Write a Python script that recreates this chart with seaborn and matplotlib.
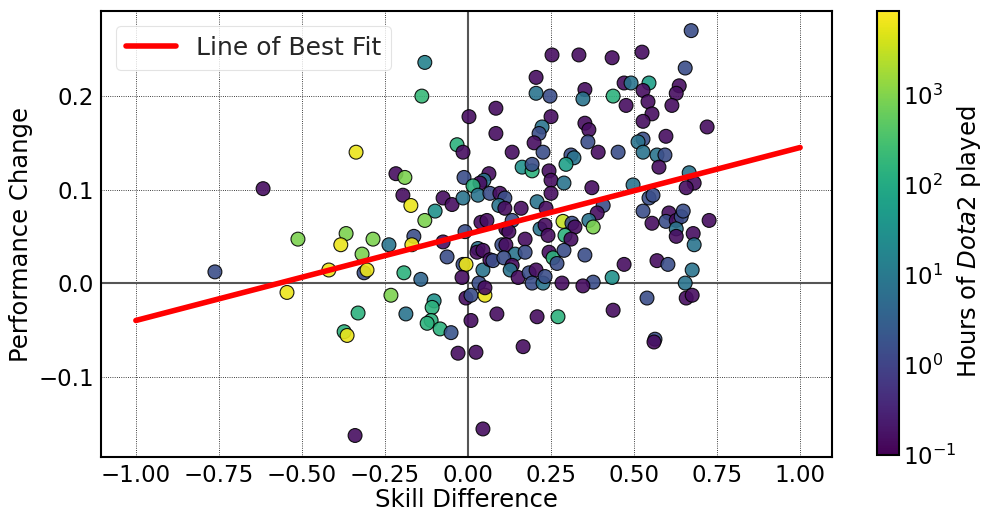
import numpy as np
import pandas as pd
import matplotlib
matplotlib.use("Agg")
import matplotlib.pyplot as plt
from matplotlib.colors import LogNorm
import seaborn as sns

# Player-level observations: skill gap, change in performance, hours of Dota 2 played
skill_diff = [
    -0.762, -0.617, -0.512, -0.419, -0.545, -0.367, -0.383, -0.286, -0.319, -0.337,
    -0.313, -0.304, -0.232, -0.331, -0.373, -0.364, -0.238, -0.340, -0.217, -0.190,
    -0.196, -0.172, -0.075, -0.048, -0.015, -0.099, -0.130, -0.163, -0.169, -0.075,
    -0.063, -0.009, -0.130, -0.139, -0.033, -0.015, -0.012, 0.003, -0.193, -0.142,
    -0.187, -0.102, -0.108, -0.111, -0.123, -0.084, -0.051, -0.030, -0.015, -0.006,
    -0.018, -0.006, 0.009, 0.009, 0.024, 0.045, 0.033, 0.051, 0.051, 0.087,
    0.166, 0.208, 0.271, 0.030, 0.027, 0.045, 0.045, 0.066, 0.075, 0.084,
    0.084, 0.133, 0.205, 0.253, 0.205, 0.247, 0.250, 0.223, 0.214, 0.199,
    0.226, 0.163, 0.193, 0.193, 0.244, 0.250, 0.063, 0.048, 0.036, 0.015,
    0.030, 0.066, 0.096, 0.111, 0.093, 0.111, 0.160, 0.208, 0.235, 0.250,
    0.039, 0.057, 0.133, 0.114, 0.123, 0.172, 0.217, 0.232, 0.241, 0.102,
    0.114, 0.142, 0.172, 0.108, 0.133, 0.127, 0.151, 0.184, 0.205, 0.193,
    0.226, 0.232, 0.244, 0.256, 0.268, 0.672, 0.334, 0.434, 0.524, 0.654,
    0.470, 0.491, 0.545, 0.352, 0.346, 0.437, 0.527, 0.542, 0.476, 0.636,
    0.627, 0.614, 0.554, 0.527, 0.720, 0.352, 0.364, 0.361, 0.392, 0.452,
    0.527, 0.512, 0.596, 0.527, 0.569, 0.593, 0.575, 0.310, 0.319, 0.295,
    0.289, 0.373, 0.497, 0.666, 0.681, 0.657, 0.407, 0.389, 0.364, 0.377,
    0.286, 0.313, 0.322, 0.292, 0.310, 0.289, 0.352, 0.470, 0.434, 0.377,
    0.346, 0.283, 0.437, 0.527, 0.545, 0.557, 0.554, 0.605, 0.596, 0.627,
    0.642, 0.648, 0.627, 0.627, 0.678, 0.681, 0.726, 0.569, 0.602, 0.675,
    0.654, 0.539, 0.657, 0.675, 0.563, 0.560,
]
perf_change = [
    0.012, 0.101, 0.047, 0.014, -0.010, 0.053, 0.041, 0.047, 0.031, 0.140,
    0.011, 0.014, -0.013, -0.032, -0.052, -0.056, 0.041, -0.163, 0.117, 0.113,
    0.094, 0.083, 0.091, 0.084, 0.091, 0.077, 0.067, 0.050, 0.041, 0.044,
    0.028, 0.055, 0.236, 0.200, 0.148, 0.140, 0.113, 0.178, 0.011, 0.004,
    -0.033, -0.019, -0.026, -0.040, -0.043, -0.049, -0.053, -0.075, 0.020, 0.020,
    0.006, -0.016, -0.013, -0.040, -0.074, -0.156, 0.000, -0.013, -0.005, -0.033,
    -0.068, -0.036, -0.036, 0.037, 0.033, 0.035, 0.014, 0.025, 0.024, 0.187,
    0.160, 0.140, 0.220, 0.244, 0.203, 0.200, 0.178, 0.167, 0.160, 0.150,
    0.140, 0.124, 0.120, 0.127, 0.120, 0.110, 0.117, 0.110, 0.107, 0.104,
    0.094, 0.096, 0.096, 0.091, 0.083, 0.080, 0.080, 0.087, 0.080, 0.096,
    0.065, 0.067, 0.067, 0.058, 0.055, 0.047, 0.058, 0.062, 0.051, 0.041,
    0.041, 0.031, 0.033, 0.027, 0.019, 0.014, 0.006, 0.011, 0.014, 0.000,
    0.000, 0.007, 0.033, 0.027, 0.021, 0.270, 0.244, 0.241, 0.247, 0.230,
    0.214, 0.214, 0.214, 0.207, 0.197, 0.200, 0.206, 0.194, 0.190, 0.211,
    0.203, 0.190, 0.181, 0.173, 0.167, 0.171, 0.164, 0.151, 0.140, 0.140,
    0.154, 0.151, 0.157, 0.140, 0.137, 0.137, 0.124, 0.137, 0.134, 0.127,
    0.107, 0.102, 0.105, 0.118, 0.107, 0.102, 0.083, 0.075, 0.067, 0.060,
    0.066, 0.064, 0.060, 0.051, 0.047, 0.035, 0.030, 0.020, 0.006, 0.001,
    -0.003, 0.000, -0.029, 0.077, 0.091, 0.094, 0.064, 0.075, 0.066, 0.067,
    0.071, 0.077, 0.058, 0.050, 0.053, 0.041, 0.067, 0.024, 0.020, 0.014,
    0.000, -0.016, -0.016, -0.013, -0.060, -0.063,
]
hours_played = [
    1.5, 0.15, 900, 6000, 6000, 900, 6000, 900, 900, 6000,
    1.5, 6000, 900, 150, 150, 6000, 8, 0.15, 0.15, 900,
    0.15, 6000, 0.15, 0.15, 8, 30, 900, 1.5, 6000, 0.15,
    1.5, 1.5, 16, 200, 150, 0.15, 1.5, 0.15, 150, 4,
    8, 30, 150, 150, 150, 150, 2, 0.15, 1.5, 6000,
    0.15, 0.15, 1.5, 0.15, 0.15, 0.15, 1.5, 6000, 0.15, 0.15,
    0.15, 0.15, 150, 8, 0.15, 0.15, 8, 0.15, 1.5, 0.15,
    0.15, 0.15, 0.15, 0.15, 8, 1.5, 0.15, 8, 1.5, 0.15,
    1.5, 30, 150, 1.5, 0.15, 0.15, 0.15, 8, 0.15, 150,
    8, 1.5, 0.15, 1.5, 8, 0.15, 0.15, 8, 0.15, 0.15,
    0.15, 0.15, 1.5, 0.15, 0.15, 0.15, 8, 0.15, 0.15, 1.5,
    0.15, 8, 1.5, 1.5, 0.15, 8, 0.15, 1.5, 0.15, 1.5,
    8, 1.5, 0.15, 150, 1.5, 1.5, 0.15, 0.15, 0.15, 1.5,
    0.15, 8, 60, 0.15, 8, 150, 0.15, 0.15, 0.15, 0.15,
    0.15, 0.15, 0.15, 0.15, 0.15, 0.15, 0.15, 1.5, 0.15, 1.5,
    1.5, 8, 0.15, 8, 8, 1.5, 0.15, 1.5, 8, 60,
    8, 0.15, 8, 8, 0.15, 0.15, 1.5, 0.15, 8, 900,
    3000, 1.5, 0.15, 150, 0.15, 1.5, 1.5, 0.15, 30, 1.5,
    0.15, 0.15, 0.15, 1.5, 1.5, 1.5, 0.15, 0.15, 1.5, 0.15,
    1.5, 1.5, 8, 0.15, 0.15, 8, 0.15, 0.15, 1.5, 8,
    8, 1.5, 0.15, 0.15, 1.5, 0.15,
]

# Least-squares line: performance_change = slope * skill_diff + intercept
fit_slope = 0.0925
fit_intercept = 0.0525
fit_x_range = [-1.0, 1.0]

x_ticks = [-1.00, -0.75, -0.50, -0.25, 0.00, 0.25, 0.50, 0.75, 1.00]
y_ticks = [-0.1, 0.0, 0.1, 0.2]
cbar_ticks = [0.1, 1, 10, 100, 1000]
hours_min, hours_max = 0.1, 8500

df = pd.DataFrame({"skill": skill_diff, "perf": perf_change, "hours": hours_played})

sns.set_theme(style="white")
plt.rcParams["font.family"] = ["DejaVu Sans"]

fig = plt.figure(figsize=(9.86, 5.12), dpi=100)
ax = fig.add_axes([101 / 986, 1 - 457 / 512, 731 / 986, 446 / 512])
cax = fig.add_axes([877 / 986, 1 - 455 / 512, 22 / 986, 444 / 512])

norm = LogNorm(vmin=hours_min, vmax=hours_max)

# reference axes through the origin
ax.axhline(0, color="#555555", lw=1.5, zorder=1)
ax.axvline(0, color="#555555", lw=1.5, zorder=1)

sns.scatterplot(
    data=df, x="skill", y="perf", hue="hours", hue_norm=norm, palette="viridis",
    s=100, edgecolor="black", linewidth=0.8, alpha=0.9, legend=False, ax=ax, zorder=3,
)

fx = np.array(fit_x_range)
sns.lineplot(x=fx, y=fit_slope * fx + fit_intercept, color="red", lw=4,
             label="Line of Best Fit", ax=ax, zorder=4)

ax.set_xlim(-1.105, 1.096)
ax.set_ylim(-0.186, 0.291)
ax.set_xticks(x_ticks)
ax.set_yticks(y_ticks)
ax.set_xticklabels([f"{t:.2f}".replace("-", "\u2212") for t in x_ticks])
ax.grid(True, color="black", linestyle=":", linewidth=0.6, zorder=0)
ax.tick_params(axis="both", length=0, labelsize=16.5, pad=5, colors="black")
for sp in ax.spines.values():
    sp.set_visible(True)
    sp.set_color("black")
    sp.set_linewidth(1.5)
ax.set_xlabel("Skill Difference", fontsize=17.5, color="black", labelpad=1)
ax.set_ylabel("Performance Change", fontsize=17.5, color="black", labelpad=4)

leg = ax.legend(loc="upper left", fontsize=18, frameon=True, handlelength=2.0,
                borderpad=0.4, borderaxespad=0.6)
leg.get_frame().set_edgecolor("#dddddd")
leg.get_frame().set_linewidth(0.8)

sm = plt.cm.ScalarMappable(norm=norm, cmap="viridis")
cb = fig.colorbar(sm, cax=cax)
cb.set_ticks(cbar_ticks)
cb.ax.minorticks_off()
cb.ax.tick_params(length=0, labelsize=16.5, pad=3, colors="black")
cb.outline.set_edgecolor("black")
cb.outline.set_linewidth(1.5)
cb.set_label(r"Hours of $\it{Dota2}$ played", fontsize=17.5, color="black")
lbl = cb.ax.yaxis.label
lbl.set_verticalalignment("center")
lbl.set_horizontalalignment("center")
cb.ax.yaxis.set_label_coords(4.2, 0.48)

fig.savefig("out.png", dpi=100)
